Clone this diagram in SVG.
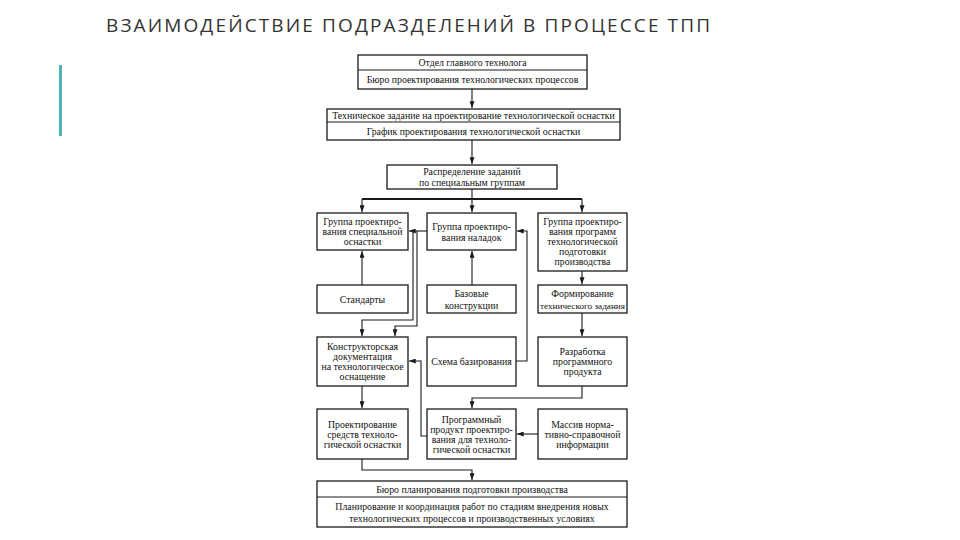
<svg xmlns="http://www.w3.org/2000/svg" width="960" height="540" viewBox="0 0 960 540">
<defs>
<marker id="ah" viewBox="0 0 8 6" refX="8" refY="3" markerWidth="7" markerHeight="5" orient="auto-start-reverse" markerUnits="userSpaceOnUse">
<path d="M0,0 L8,3 L0,6 z" fill="#1a1a1a"/>
</marker>
<style>
.box{fill:#fff;stroke:#1a1a1a;stroke-width:1.3}
.div{stroke:#1a1a1a;stroke-width:1}
.t{font-family:"Liberation Serif","Times New Roman",serif;font-size:9.8px;fill:#111;text-anchor:middle}
.s{font-size:9.2px}
.c{fill:none;stroke:#1a1a1a;stroke-width:1.1}
.a{marker-end:url(#ah)}
.title{font-family:"Open Sans","DejaVu Sans",sans-serif;font-size:19px;fill:#333}
</style>
</defs>
<rect width="960" height="540" fill="#fff"/>
<text class="title" x="106" y="32" textLength="604" lengthAdjust="spacing">ВЗАИМОДЕЙСТВИЕ ПОДРАЗДЕЛЕНИЙ В ПРОЦЕССЕ ТПП</text>
<rect x="59" y="65" width="3" height="71" fill="#4fb3b3"/>

<g id="connectors">
<path class="c a" d="M472 89 V108"/>
<path class="c a" d="M472 140 V164"/>
<path class="c" d="M472 189 V199"/>
<path class="c" style="stroke-width:2" d="M362 199 H582"/>
<path class="c a" d="M362 199 V212"/>
<path class="c a" d="M472 199 V212"/>
<path class="c a" d="M582 199 V212"/>
<path class="c a" d="M362 285 V251"/>
<path class="c a" d="M472 285 V251"/>
<path class="c a" d="M582 271 V284"/>
<path class="c a" d="M582 313 V336"/>
<path class="c a" d="M582 386 V398 H472 V408"/>
<path class="c a" d="M516 361 H527 V231 H517"/>
<path class="c a" d="M427 231 H409"/>
<path class="c a" d="M413 231 V320 H362 V336"/>
<path class="c a" d="M417 231 V326 H395 V336"/>
<path class="c a" d="M427 436 H421 V361 H409"/>
<path class="c a" d="M538 434 H517"/>
<path class="c a" d="M362 386 V408"/>
<path class="c a" d="M362 459 V470 H472 V480"/>
</g>

<g id="n-otdel">
<rect class="box" x="358" y="55" width="229" height="34"/>
<line class="div" x1="358" y1="70" x2="587" y2="70"/>
<text class="t" x="472.5" y="66">Отдел главного технолога</text>
<text class="t" x="472.5" y="83">Бюро проектирования технологических процессов</text>
</g>

<g id="n-tz">
<rect class="box" x="327" y="109" width="293" height="31"/>
<line class="div" x1="327" y1="122" x2="620" y2="122"/>
<text class="t" x="473.5" y="119">Техническое задание на проектирование технологической оснастки</text>
<text class="t" x="473.5" y="135">График проектирования технологической оснастки</text>
</g>

<g id="n-raspr">
<rect class="box" x="387" y="165" width="170" height="24"/>
<text class="t" x="472" y="175">Распределение заданий</text>
<text class="t" x="472" y="186">по специальным группам</text>
</g>

<g id="n-gr1">
<rect class="box" x="317" y="213" width="91" height="37"/>
<text class="t" x="362.5" y="225">Группа проектиро-</text>
<text class="t" x="362.5" y="235">вания специальной</text>
<text class="t" x="362.5" y="245">оснастки</text>
</g>

<g id="n-gr2">
<rect class="box" x="427" y="213" width="89" height="37"/>
<text class="t" x="471.5" y="229.5">Группа проектиро-</text>
<text class="t" x="471.5" y="240.5">вания наладок</text>
</g>

<g id="n-gr3">
<rect class="box" x="538" y="213" width="89" height="58"/>
<text class="t" x="582.5" y="224.5">Группа проектиро-</text>
<text class="t" x="582.5" y="234.5">вания программ</text>
<text class="t" x="582.5" y="244.5">технологической</text>
<text class="t" x="582.5" y="254.5">подготовки</text>
<text class="t" x="582.5" y="264.5">производства</text>
</g>

<g id="n-stand">
<rect class="box" x="317" y="285" width="91" height="28"/>
<text class="t" x="362.5" y="302.5">Стандарты</text>
</g>

<g id="n-baz">
<rect class="box" x="427" y="285" width="89" height="28"/>
<text class="t" x="471.5" y="297">Базовые</text>
<text class="t" x="471.5" y="308.5">конструкции</text>
</g>

<g id="n-form">
<rect class="box" x="538" y="285" width="89" height="28"/>
<text class="t" x="582.5" y="297">Формирование</text>
<text class="t s" x="582.5" y="308.5">технического задания</text>
</g>

<g id="n-konstr">
<rect class="box" x="317" y="337" width="91" height="49"/>
<text class="t" x="362.5" y="350">Конструкторская</text>
<text class="t" x="362.5" y="360">документация</text>
<text class="t" x="362.5" y="370">на технологическое</text>
<text class="t" x="362.5" y="380">оснащение</text>
</g>

<g id="n-shema">
<rect class="box" x="427" y="337" width="89" height="49"/>
<text class="t" x="471.5" y="365">Схема базирования</text>
</g>

<g id="n-razr">
<rect class="box" x="538" y="337" width="89" height="49"/>
<text class="t" x="582.5" y="355">Разработка</text>
<text class="t" x="582.5" y="365">программного</text>
<text class="t" x="582.5" y="375">продукта</text>
</g>

<g id="n-proekt">
<rect class="box" x="317" y="409" width="91" height="50"/>
<text class="t" x="362.5" y="427.5">Проектирование</text>
<text class="t" x="362.5" y="437.5">средств техноло-</text>
<text class="t" x="362.5" y="447.5">гической оснастки</text>
</g>

<g id="n-progr">
<rect class="box" x="427" y="409" width="89" height="50"/>
<text class="t" x="471.5" y="422.5">Программный</text>
<text class="t" x="471.5" y="432.5">продукт проектиро-</text>
<text class="t" x="471.5" y="442.5">вания для техноло-</text>
<text class="t" x="471.5" y="452.5">гической оснастки</text>
</g>

<g id="n-massiv">
<rect class="box" x="538" y="409" width="89" height="50"/>
<text class="t" x="582.5" y="427.5">Массив норма-</text>
<text class="t" x="582.5" y="437.5">тивно-справочной</text>
<text class="t" x="582.5" y="447.5">информации</text>
</g>

<g id="n-buro">
<rect class="box" x="317" y="481" width="310" height="46"/>
<line class="div" x1="317" y1="497" x2="627" y2="497"/>
<text class="t" x="472" y="492.5">Бюро планирования подготовки производства</text>
<text class="t" x="472" y="509.5">Планирование и координация работ по стадиям внедрения новых</text>
<text class="t" x="472" y="521.5">технологических процессов и производственных условиях</text>
</g>
</svg>
